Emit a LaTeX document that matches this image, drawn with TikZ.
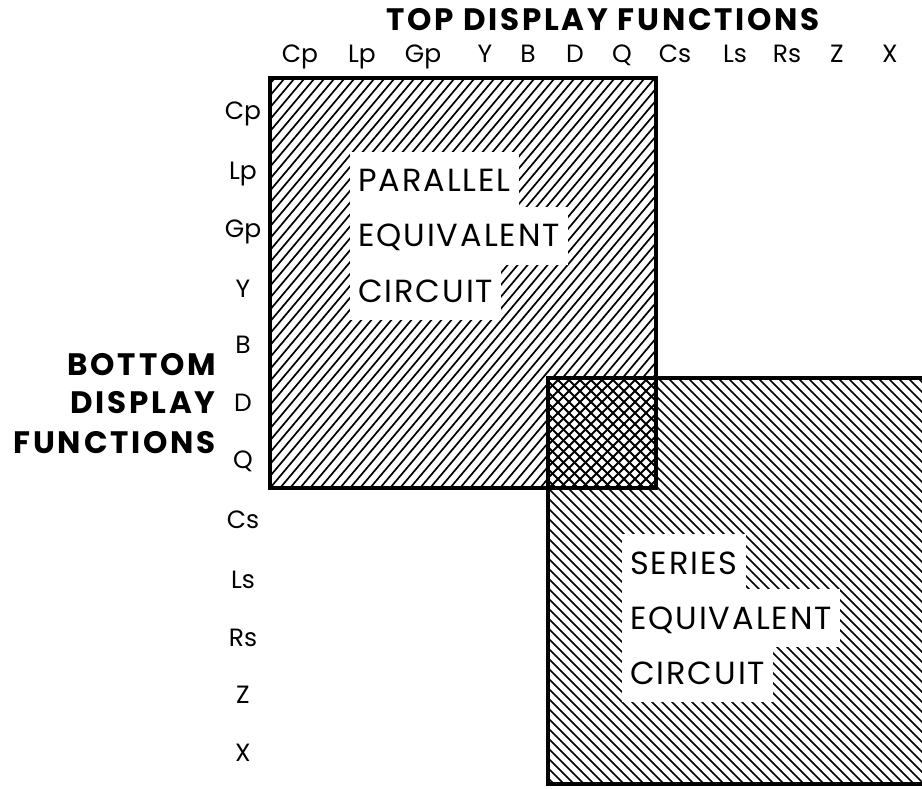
\documentclass[tikz,border=0pt]{standalone}
\usepackage{fontspec}
\setmainfont{Poppins}
\begin{document}
\begin{tikzpicture}[x=1pt,y=-1pt,
  hatch/.style={line width=1.7pt},
  xhatch/.style={line width=2pt},
  frame/.style={line width=4.5pt},
  lab/.style={font=\fontsize{25}{25}\selectfont, anchor=base, inner sep=0pt},
  head/.style={font=\fontsize{31}{31}\selectfont\bfseries\addfontfeatures{LetterSpace=9}, inner sep=0pt},
  inner/.style={font=\fontsize{32}{32}\selectfont\addfontfeatures{LetterSpace=6}, fill=white, anchor=base west, inner xsep=8pt, inner ysep=18pt, text height=22pt, text depth=0pt}]
\clip (0,0) rectangle (922,789);
\fill[white] (0,0) rectangle (922,789);
% parallel hatch
\begin{scope}
\clip (270,78) rectangle (656,488);
\foreach \x in {-110,-100,...,660} \draw[hatch] (\x,500) -- ++(370,-440);
\end{scope}
% series hatch
\begin{scope}
\clip (548,378) rectangle (940,784);
\foreach \x in {120,130,...,940} \draw[hatch] (\x,370) -- ++(420,420);
\end{scope}
% overlap crosshatch
\fill[white] (548,378) rectangle (656,488);
\begin{scope}
\clip (548,378) rectangle (656,488);
\foreach \x in {405,416,...,670} {
  \draw[xhatch] (\x,370) -- ++(130,130);
  \draw[xhatch] (\x,500) -- ++(130,-130);
}
\end{scope}
% frames
\draw[frame] (270,78) rectangle (656,488);
\draw[frame] (548,378) rectangle (940,784);
% inner texts
\node[inner] (par1) at (350,192) {PARALLEL};
\node[inner] (par2) at (350,247) {EQUIVALENT};
\node[inner] (par3) at (350,302) {CIRCUIT};
\node[inner] (ser1) at (622,574) {SERIES};
\node[inner] (ser2) at (622,629) {EQUIVALENT};
\node[inner] (ser3) at (622,684) {CIRCUIT};
% titles
\node[head, anchor=base] (toptitle) at (603,31) {TOP DISPLAY FUNCTIONS};
\node[head, anchor=base east] (bot1) at (216,375) {BOTTOM};
\node[head, anchor=base east] (bot2) at (216,413) {DISPLAY};
\node[head, anchor=base east] (bot3) at (216,453) {FUNCTIONS};
% top labels
\foreach \t/\x [count=\i] in {Cp/300,Lp/362,Gp/423,Y/485,B/528,D/575,Q/622,Cs/675,Ls/735,Rs/787,Z/837,X/890}
  \node[lab] (top\i) at (\x,63) {\t};
% left labels
\foreach \t/\y [count=\i] in {Cp/120,Lp/180,Gp/238,Y/298,B/353,D/411,Q/468,Cs/528,Ls/588,Rs/646,Z/703,X/761}
  \node[lab] (left\i) at (243,\y) {\t};
\end{tikzpicture}
\end{document}
